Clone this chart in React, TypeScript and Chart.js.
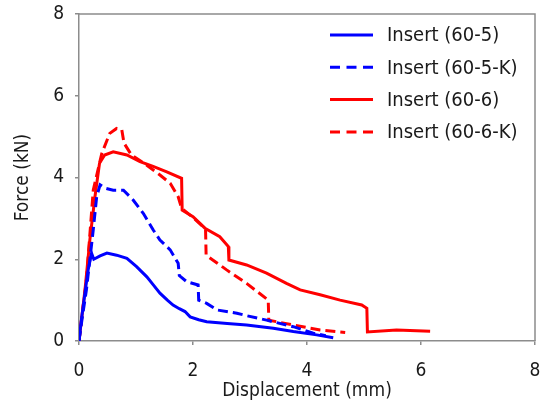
import React, { useEffect, useRef } from "react";
import { Chart, registerables } from "chart.js";

Chart.register(...registerables);

const seriesLabels = ["Insert (60-5)", "Insert (60-5-K)", "Insert (60-6)", "Insert (60-6-K)"];
const seriesColors = ["#0000FF", "#0000FF", "#FF0000", "#FF0000"];
const seriesDashed = [false, true, false, true];

const xTickValues = [0, 2, 4, 6, 8];
const yTickValues = [0, 2, 4, 6, 8];

// Insert (60-5)
const s1X = [0, 0.04, 0.08, 0.16, 0.22, 0.26, 0.37, 0.49, 0.66, 0.84, 1.01, 1.19, 1.3, 1.42, 1.55, 1.65, 1.76, 1.86, 1.95, 2.1, 2.24, 2.6, 2.94, 3.41, 3.76, 4.17, 4.46];
const s1Y = [0, 0.5, 0.92, 1.74, 2.15, 2.0, 2.08, 2.15, 2.1, 2.02, 1.82, 1.57, 1.38, 1.17, 1.0, 0.88, 0.79, 0.72, 0.59, 0.52, 0.47, 0.43, 0.39, 0.31, 0.23, 0.15, 0.08];

// Insert (60-5-K)
const s2X = [0, 0.06, 0.13, 0.25, 0.31, 0.37, 0.46, 0.6, 0.78, 0.95, 1.13, 1.3, 1.42, 1.6, 1.74, 1.76, 1.89, 2.09, 2.1, 2.24, 2.42, 2.77, 2.94, 3.29, 3.76, 4.11, 4.33];
const s2Y = [0, 0.6, 1.25, 2.72, 3.53, 3.82, 3.74, 3.69, 3.69, 3.45, 3.12, 2.72, 2.47, 2.23, 1.9, 1.6, 1.45, 1.37, 1.0, 0.92, 0.76, 0.68, 0.62, 0.51, 0.35, 0.19, 0.13];

// Insert (60-6)
const s3X = [0, 0.05, 0.105, 0.19, 0.28, 0.36, 0.45, 0.6, 0.84, 1.07, 1.3, 1.54, 1.8, 1.81, 2.0, 2.21, 2.47, 2.62, 2.63, 2.94, 3.29, 3.64, 3.88, 4.23, 4.58, 4.96, 5.05, 5.06, 5.57, 6.16];
const s3Y = [0, 0.6, 1.25, 2.47, 3.53, 4.35, 4.55, 4.63, 4.55, 4.39, 4.27, 4.14, 3.98, 3.2, 3.04, 2.76, 2.55, 2.31, 1.98, 1.86, 1.66, 1.41, 1.25, 1.13, 1.0, 0.88, 0.8, 0.22, 0.27, 0.24];

// Insert (60-6-K)
const s4X = [0, 0.06, 0.13, 0.25, 0.4, 0.54, 0.66, 0.75, 0.79, 0.92, 1.19, 1.42, 1.6, 1.74, 1.8, 2.0, 2.22, 2.23, 2.59, 2.94, 3.32, 3.33, 3.76, 4.23, 4.67];
const s4Y = [0, 0.7, 1.5, 3.69, 4.59, 5.08, 5.2, 5.17, 4.84, 4.55, 4.3, 4.06, 3.86, 3.53, 3.25, 3.02, 2.74, 2.1, 1.74, 1.41, 1.0, 0.51, 0.39, 0.27, 0.21];

const seriesX = [s1X, s2X, s3X, s4X];
const seriesY = [s1Y, s2Y, s3Y, s4Y];

const FONT = "'DejaVu Sans Condensed', 'DejaVu Sans', sans-serif";
const TEXT = "#1a1a1a";
const AXIS = "#8c8c8c";

const framePlugin = {
  id: "frame",
  beforeDatasetsDraw(chart: any) {
    const { ctx, chartArea } = chart;
    ctx.save();
    ctx.strokeStyle = AXIS;
    ctx.lineWidth = 1.5;
    ctx.beginPath();
    ctx.moveTo(chartArea.left, chartArea.top);
    ctx.lineTo(chartArea.right, chartArea.top);
    ctx.lineTo(chartArea.right, chartArea.bottom);
    ctx.stroke();
    ctx.restore();
  },
};

const legendPlugin = {
  id: "insideLegend",
  afterDatasetsDraw(chart: any) {
    const { ctx, chartArea } = chart;
    const lineStart = chartArea.right - 205;
    const lineEnd = lineStart + 43;
    const textX = lineStart + 57;
    const firstRow = chartArea.top + 21;
    const rowGap = 32.3;
    ctx.save();
    seriesLabels.forEach((label, i) => {
      const y = firstRow + i * rowGap;
      ctx.strokeStyle = seriesColors[i];
      ctx.lineWidth = 3;
      ctx.setLineDash(seriesDashed[i] ? [10, 6.5] : []);
      ctx.beginPath();
      ctx.moveTo(lineStart, y);
      ctx.lineTo(lineEnd, y);
      ctx.stroke();
      ctx.setLineDash([]);
      ctx.fillStyle = TEXT;
      ctx.font = `20px ${FONT}`;
      ctx.textBaseline = "middle";
      ctx.textAlign = "left";
      ctx.fillText(label, textX, y + 1);
    });
    ctx.restore();
  },
};

export default function App() {
  const canvasRef = useRef<HTMLCanvasElement | null>(null);

  useEffect(() => {
    const canvas = canvasRef.current;
    if (!canvas) return;
    const datasets = seriesLabels.map((label, i) => ({
      label,
      data: seriesX[i].map((x, j) => ({ x, y: seriesY[i][j] })),
      borderColor: seriesColors[i],
      backgroundColor: seriesColors[i],
      borderWidth: 3,
      borderDash: seriesDashed[i] ? [10, 5] : [],
      showLine: true,
      pointRadius: 0,
      tension: 0,
      fill: false,
    }));
    const zeroPad = (scale: any) => {
      scale.paddingTop = 0;
      scale.paddingBottom = 0;
      scale.paddingLeft = 0;
      scale.paddingRight = 0;
    };
    const chart = new Chart(canvas, {
      type: "scatter",
      data: { datasets },
      plugins: [framePlugin, legendPlugin],
      options: {
        responsive: false,
        animation: false,
        devicePixelRatio: 1,
        layout: { padding: { top: 14, right: 13, bottom: 0, left: 0 } },
        plugins: {
          legend: { display: false },
          tooltip: { enabled: false },
        },
        scales: {
          x: {
            type: "linear",
            min: 0,
            max: 8,
            afterBuildTicks: (scale: any) => {
              scale.ticks = xTickValues.map((v) => ({ value: v }));
            },
            afterFit: (scale: any) => {
              scale.height = 62;
              zeroPad(scale);
            },
            ticks: {
              color: TEXT,
              font: { family: FONT, size: 19 },
              padding: 15,
              maxRotation: 0,
            },
            grid: { drawOnChartArea: false, drawTicks: true, tickLength: 4, color: AXIS, lineWidth: 1.5 },
            border: { display: true, color: AXIS, width: 1.5 },
            title: {
              display: true,
              text: "Displacement (mm)",
              color: TEXT,
              font: { family: FONT, size: 19 },
              padding: { top: 0, bottom: 1 },
            },
          },
          y: {
            type: "linear",
            min: 0,
            max: 8,
            afterBuildTicks: (scale: any) => {
              scale.ticks = yTickValues.map((v) => ({ value: v }));
            },
            afterFit: (scale: any) => {
              scale.width = 79;
              zeroPad(scale);
            },
            ticks: {
              color: TEXT,
              font: { family: FONT, size: 19 },
              padding: 11,
            },
            grid: { drawOnChartArea: false, drawTicks: true, tickLength: 4, color: AXIS, lineWidth: 1.5 },
            border: { display: true, color: AXIS, width: 1.5 },
            title: {
              display: true,
              text: "Force (kN)",
              color: TEXT,
              font: { family: FONT, size: 19 },
              padding: { top: 12, bottom: 0 },
            },
          },
        },
      } as any,
    });
    return () => chart.destroy();
  }, []);

  return (
    <div style={{ position: "absolute", left: 0, top: 0, width: 548, height: 403, background: "#fff" }}>
      <canvas ref={canvasRef} width={548} height={403} style={{ display: "block", width: 548, height: 403 }} />
    </div>
  );
}
